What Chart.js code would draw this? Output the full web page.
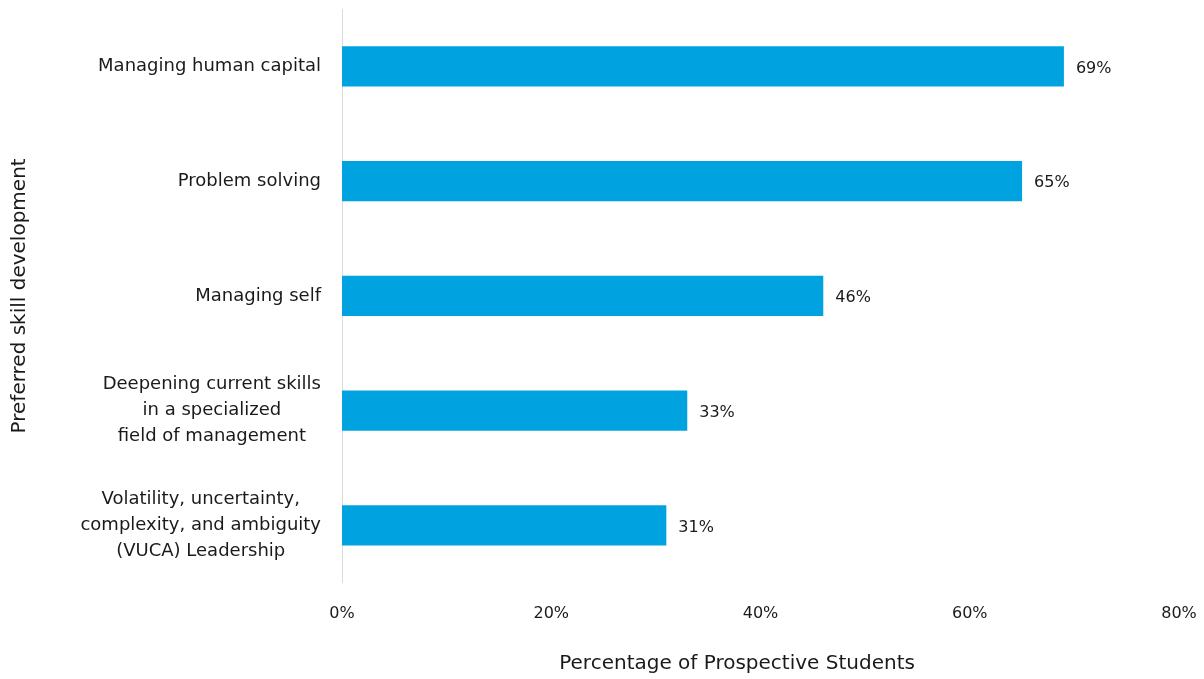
<!DOCTYPE html>
<html>
<head>
<meta charset="utf-8">
<script src="https://cdn.jsdelivr.net/npm/chart.js@4"></script>
<style>
  html, body { margin: 0; padding: 0; background: #fff; }
  #wrap { width: 1204px; height: 679px; }
</style>
</head>
<body>
<div id="wrap"><canvas id="skillChart" width="1204" height="679"></canvas></div>
<script>
const skills = [
    ["Managing human capital"],
    ["Problem solving"],
    ["Managing self"],
    ["Deepening current skills", "in a specialized", "field of management"],
    ["Volatility, uncertainty,", "complexity, and ambiguity", "(VUCA) Leadership"]
];
const percentages = [69, 65, 46, 33, 31];
const xTicks = [0, 20, 40, 60, 80];
const xTitle = "Percentage of Prospective Students";

const FONT = "'DejaVu Sans', sans-serif";
const TEXT = "#1a1a1a";

// category names: single lines sit against the axis, wrapped ones are centred on their widest line
const skillLabels = {
    id: "skillLabels",
    afterDraw(chart) {
        const { ctx } = chart;
        const yScale = chart.scales.y;
        const right = yScale.right - 21;
        ctx.save();
        ctx.font = "18px " + FONT;
        ctx.fillStyle = TEXT;
        ctx.textBaseline = "middle";
        ctx.textAlign = "center";
        skills.forEach((lines, i) => {
            const yc = yScale.getPixelForTick(i);
            const widest = Math.max(...lines.map(l => ctx.measureText(l).width));
            const cx = right - widest / 2;
            const lh = 26;
            const top = yc - (lines.length - 1) * lh / 2;
            lines.forEach((l, j) => ctx.fillText(l, cx, top + j * lh));
        });

        // x title sits a little left of the plot centre
        const xScale = chart.scales.x;
        ctx.font = "20px " + FONT;
        ctx.textAlign = "center";
        ctx.fillText(xTitle, xScale.left + xScale.width * 0.472, xScale.bottom - 15);
        ctx.restore();
    }
};

// value labels just past the end of each bar
const valueLabels = {
    id: "valueLabels",
    afterDatasetsDraw(chart) {
        const { ctx } = chart;
        const meta = chart.getDatasetMeta(0);
        ctx.save();
        ctx.font = "16px " + FONT;
        ctx.fillStyle = TEXT;
        ctx.textBaseline = "middle";
        ctx.textAlign = "left";
        meta.data.forEach((bar, i) => {
            ctx.fillText(percentages[i] + "%", bar.x + 12, bar.y + 2);
        });
        ctx.restore();
    }
};

const ctx = document.getElementById("skillChart").getContext("2d");
new Chart(ctx, {
    type: "bar",
    data: {
        labels: skills.map(s => s.join(" ")),
        datasets: [{
            data: percentages,
            backgroundColor: "#00A3E0",
            barPercentage: 0.35,
            categoryPercentage: 1
        }]
    },
    options: {
        indexAxis: "y",
        responsive: false,
        animation: false,
        layout: { padding: { top: 9, right: 0, left: 0, bottom: 0 } },
        plugins: {
            legend: { display: false },
            tooltip: { enabled: false }
        },
        scales: {
            x: {
                min: 0,
                max: 80,
                afterBuildTicks(scale) {
                    scale.ticks = xTicks.map(v => ({ value: v }));
                },
                afterFit(scale) { scale.paddingRight = 25; },
                grid: { display: false },
                border: { display: false },
                ticks: {
                    padding: 13,
                    color: TEXT,
                    font: { family: FONT, size: 16 },
                    callback: v => v + "%"
                },
                title: {
                    // space is kept here, the text itself is drawn by skillLabels
                    display: true,
                    text: xTitle,
                    color: "rgba(0,0,0,0)",
                    font: { family: FONT, size: 20 },
                    padding: { top: 16, bottom: 3 }
                }
            },
            y: {
                grid: { display: false },
                border: { display: true, color: "#dcdcdc", width: 1 },
                ticks: { display: false },
                afterFit(scale) { scale.width = 342; },
                title: {
                    display: true,
                    text: "Preferred skill development",
                    color: TEXT,
                    font: { family: FONT, size: 20 },
                    padding: { top: 8, bottom: 0 }
                }
            }
        }
    },
    plugins: [skillLabels, valueLabels]
});
</script>
</body>
</html>
